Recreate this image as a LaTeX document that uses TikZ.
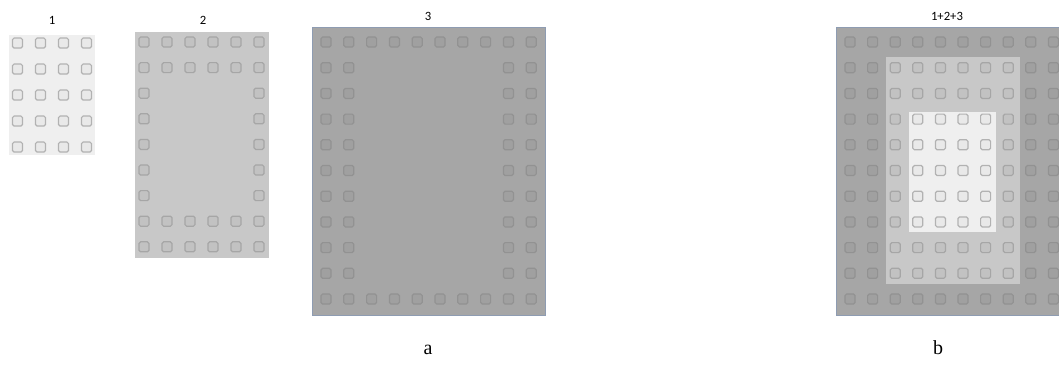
\documentclass[tikz,border=0pt]{standalone}
\usepackage{fontspec}
\setmainfont{Liberation Serif}
\newfontfamily\smallfont{Carlito}
\definecolor{bgA}{HTML}{EFEFEF}
\definecolor{sqA}{HTML}{B2B2B2}
\definecolor{fiA}{HTML}{E9E9E9}
\definecolor{bgB}{HTML}{C8C8C8}
\definecolor{sqB}{HTML}{A6A6A6}
\definecolor{fiB}{HTML}{C2C2C2}
\definecolor{bgC}{HTML}{A6A6A6}
\definecolor{sqC}{HTML}{929292}
\definecolor{fiC}{HTML}{A0A0A0}
\definecolor{edgeC}{HTML}{8E9CB2}
\tikzset{
  sqbase/.style={rounded corners=1.2pt, line width=0.9pt},
  sqa/.style={sqbase, draw=sqA, fill=fiA},
  sqb/.style={sqbase, draw=sqB, fill=fiB},
  sqc/.style={sqbase, draw=sqC, fill=fiC},
  numlabel/.style={font=\smallfont\fontsize{9.5}{10}\selectfont, inner sep=0pt, anchor=base},
  partlabel/.style={font=\fontsize{15}{16}\selectfont, inner sep=0pt, anchor=base}
}
\newcommand{\sqat}[3]{\draw[#1] ({#2-5},{#3-5}) rectangle ({#2+5},{#3+5});}
\begin{document}
\begin{tikzpicture}[x=0.75pt,y=-0.75pt]
\useasboundingbox (0,0) rectangle (1059,372);
\clip (0,0) rectangle (1059,372);
\fill[white] (0,0) rectangle (1059,372);
% panel 1
\fill[bgA] (9,35) rectangle (95,155);
\foreach \k in {0,...,3}{\foreach \r in {0,...,4}{\sqat{sqa}{17.5+23*\k}{43+26*\r}}}
% panel 2
\fill[bgB] (135,32) rectangle (269,258);
\foreach \k in {0,...,5}{\foreach \r in {0,1,7,8}{\sqat{sqb}{144+23*\k}{42+25.6*\r}}}
\foreach \k in {0,5}{\foreach \r in {2,...,6}{\sqat{sqb}{144+23*\k}{42+25.6*\r}}}
% panel 3
\filldraw[fill=bgC, draw=edgeC, line width=0.6pt] (312,27) rectangle (545,315);
\foreach \k in {0,...,9}{\foreach \r in {0,10}{\sqat{sqc}{326+22.8*\k}{42+25.7*\r}}}
\foreach \k in {0,1,8,9}{\foreach \r in {1,...,9}{\sqat{sqc}{326+22.8*\k}{42+25.7*\r}}}
% panel b
\filldraw[fill=bgC, draw=edgeC, line width=0.6pt] (836,27) rectangle (1069,315);
\fill[bgB] (886,57) rectangle (1020,284);
\fill[bgA] (909,112) rectangle (996,232);
\foreach \k in {0,...,9}{\foreach \r in {0,...,10}{
  \pgfmathtruncatemacro{\inmid}{(\k>=2)&&(\k<=7)&&(\r>=1)&&(\r<=9)}
  \pgfmathtruncatemacro{\ininn}{(\k>=3)&&(\k<=6)&&(\r>=3)&&(\r<=7)}
  \ifnum\ininn=1 \sqat{sqa}{850+22.6*\k}{42+25.7*\r}
  \else\ifnum\inmid=1 \sqat{sqb}{850+22.6*\k}{42+25.7*\r}
  \else \sqat{sqc}{850+22.6*\k}{42+25.7*\r}\fi\fi
}}
% labels
\node[numlabel] (l1) at (52,24) {1};
\node[numlabel] (l2) at (203,24) {2};
\node[numlabel] (l3) at (428,20) {3};
\node[numlabel] (l123) at (947,20) {1+2+3};
\node[partlabel] (la) at (428,354) {a};
\node[partlabel] (lb) at (938,354) {b};
\end{tikzpicture}
\end{document}
